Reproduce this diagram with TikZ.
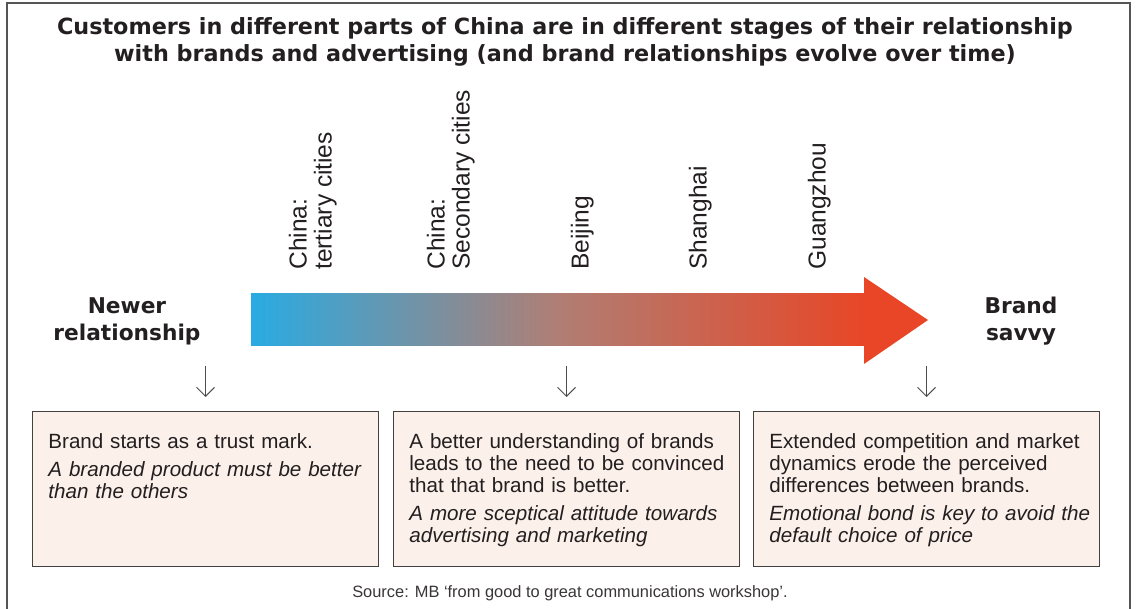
\documentclass[tikz,border=0pt]{standalone}
\usepackage{fontspec}
\setmainfont{Liberation Sans}
\newfontfamily\headfont{DejaVu Sans}
\usetikzlibrary{arrows.meta,positioning}
\definecolor{bink}{RGB}{35,31,32}
\definecolor{bcyan}{RGB}{41,171,226}
\definecolor{bmauve}{RGB}{176,126,116}
\definecolor{bred}{RGB}{232,70,38}
\definecolor{bpeach}{RGB}{251,240,234}
\definecolor{bframe}{RGB}{85,85,85}

\begin{document}
\begin{tikzpicture}[x=0.5pt, y=-0.5pt,
    card/.style={draw=bink!85, line width=0.5pt, fill=bpeach, anchor=north west,
                 minimum width=173pt, minimum height=77.5pt, inner sep=0pt},
    cardtext/.style={anchor=north west, inner sep=0pt, text width=165pt, align=left,
                 font=\fontsize{10.3}{11}\selectfont, text=bink},
    city/.style={rotate=90, anchor=south west, inner sep=0pt, align=left,
                 font=\fontsize{12.25}{12.5}\selectfont, text=bink},
    pole/.style={anchor=north, inner sep=0pt, align=center,
                 font=\headfont\bfseries\fontsize{10.85}{13.5}\selectfont, text=bink},
    drop/.style={-{Straight Barb[length=4.5pt,width=9pt]}, line width=0.5pt, bink!80}
]
\useasboundingbox (0,0) rectangle (1136,609);

% frame, open at the foot
\draw[bframe, line width=0.6pt] (7,609) -- (7,3) -- (1130,3) -- (1130,609);

% heading
\node[anchor=north, inner sep=0pt, align=center, text=bink,
      font=\headfont\bfseries\fontsize{11.15}{13.5}\selectfont] (title) at (565,17)
  {Customers in different parts of China are in different stages of their relationship\\
   with brands and advertising (and brand relationships evolve over time)};

% gradient arrow
\shade[left color=bcyan, right color=bred, middle color=bmauve] (251,294) rectangle (866,346);
\fill[bred] (864,277) -- (928,320) -- (864,364) -- cycle;

% ends of the scale
\node[pole] (newer) at (127,297) {Newer\\relationship};
\node[pole] (savvy) at (1021,297) {Brand\\savvy};

% markets along the scale
\node[city] (tier3) at (337,270) {China:\\tertiary cities};
\node[city] (tier2) at (475,270) {China:\\Secondary cities};
\node[city] (bei) at (594,270) {Beijing};
\node[city] (sha) at (712,270) {Shanghai};
\node[city] (gua) at (831,270) {Guangzhou};

% stages
\node[card] (trust) at (32,411) {};
\node[card] (doubt) at (393,411) {};
\node[card] (bond) at (753,411) {};

\node[cardtext] (trusttxt) at ([xshift=8pt,yshift=-11pt]trust.north west)
  {Brand starts as a trust mark.\\[3pt]
   \itshape A branded product must be better\\than the others};
\node[cardtext] (doubttxt) at ([xshift=8pt,yshift=-11pt]doubt.north west)
  {A better understanding of brands\\leads to the need to be convinced\\that that brand is better.\\[3pt]
   \itshape A more sceptical attitude towards\\advertising and marketing};
\node[cardtext] (bondtxt) at ([xshift=8pt,yshift=-11pt]bond.north west)
  {Extended competition and market\\dynamics erode the perceived\\differences between brands.\\[3pt]
   \itshape Emotional bond is key to avoid the\\default choice of price};

\foreach \nm in {trust,doubt,bond}
  \draw[drop] ([yshift=22.5pt]\nm.north) -- ([yshift=7pt]\nm.north);

% source
\node[anchor=base, inner sep=0pt, text=bink!90, font=\fontsize{8.2}{10}\selectfont] (src)
  at (570,597) {Source: MB ‘from good to great communications workshop’.};

\end{tikzpicture}
\end{document}
